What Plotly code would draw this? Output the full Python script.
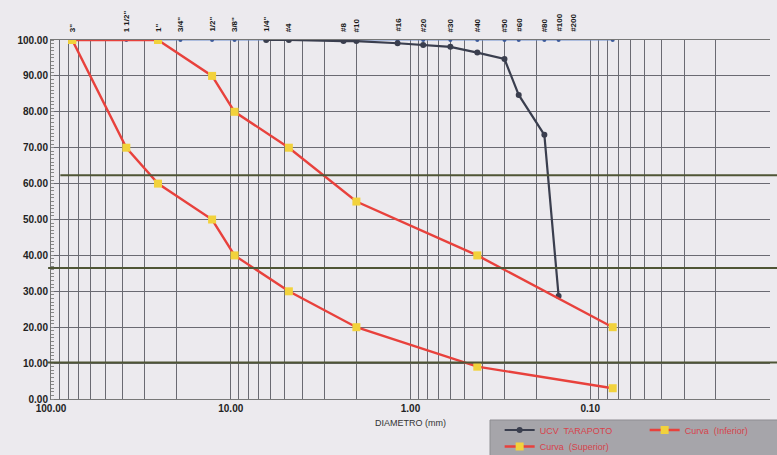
import math
import plotly.graph_objects as go

# Sieve series (ASTM) and their openings in mm
sieve_names = ['3"', '1 1/2"', '1"', '3/4"', '1/2"', '3/8"', '1/4"', '#4', '#8', '#10',
               '#16', '#20', '#30', '#40', '#50', '#60', '#80', '#100', '#200']
sieve_mm = [76.2, 38.1, 25.4, 19.05, 12.7, 9.525, 6.35, 4.75, 2.36, 2.0,
            1.18, 0.85, 0.6, 0.425, 0.3, 0.25, 0.18, 0.15, 0.075]
# where each sieve name is written along the top (the #200 caption sits left of its tick)
sieve_label_mm = sieve_mm[:-1] + [0.125]

# Sample gradation: UCV TARAPOTO
ucv_mm = [6.35, 4.75, 2.36, 2.0, 1.18, 0.85, 0.6, 0.425, 0.3, 0.25, 0.18, 0.15]
ucv_pass = [100.0, 100.0, 99.7, 99.7, 99.1, 98.6, 98.1, 96.5, 94.7, 84.7, 73.6, 28.7]

# Specification envelope
inf_mm = [76.2, 38.1, 25.4, 12.7, 9.525, 4.75, 2.0, 0.425, 0.075]
inf_pass = [100, 70, 60, 50, 40, 30, 20, 9, 3]
sup_mm = [76.2, 25.4, 12.7, 9.525, 4.75, 2.0, 0.425, 0.075]
sup_pass = [100, 100, 90, 80, 70, 55, 40, 20]

# Reference levels marked across the sheet
ref_levels = [62.3, 36.5, 10.2]
ref_starts = [0.013, -0.004, -0.005]

x_ticks = [100, 10, 1, 0.1, 0.01]
x_ticktext = ["100.00", "10.00", "1.00", "0.10", "0.01"]
y_ticks = list(range(0, 101, 10))
y_ticktext = [f"{v:.2f}" for v in y_ticks]

minor_x = [m * 10 ** e for e in range(-2, 2) for m in range(2, 10)]

BG = "#eceaee"
GRID = "#6a6a72"
RED = "#e8413c"
YEL = "#f2d23c"
LEG_TXT = "#d8424a"

fig = go.Figure()

fig.add_trace(go.Scatter(
    x=sieve_mm, y=[100] * len(sieve_mm), mode="lines+markers",
    line=dict(color="#6f8fcf", width=1.2),
    marker=dict(size=4, color="#3d5a99"),
    showlegend=False, hoverinfo="skip"))

fig.add_trace(go.Scatter(
    x=ucv_mm, y=ucv_pass, mode="lines+markers", name="UCV  TARAPOTO",
    line=dict(color="#3a3e4e", width=2.2),
    marker=dict(size=6, color="#3a3e4e", symbol="circle")))

fig.add_trace(go.Scatter(
    x=inf_mm, y=inf_pass, mode="lines+markers", name="Curva  (Inferior)",
    line=dict(color=RED, width=2.4),
    marker=dict(size=8, color=YEL, symbol="square")))

fig.add_trace(go.Scatter(
    x=sup_mm, y=sup_pass, mode="lines+markers", name="Curva  (Superior)",
    line=dict(color=RED, width=2.4),
    marker=dict(size=8, color=YEL, symbol="square"), legend="legend2"))

for lvl, x0 in zip(ref_levels, ref_starts):
    fig.add_shape(type="line", xref="paper", yref="y", x0=x0, x1=1.02, y0=lvl, y1=lvl,
                  line=dict(color="#4f5535", width=2), layer="above")

# grey panel behind the legend entries
fig.add_shape(type="rect", xref="paper", yref="paper",
              x0=0.6106, x1=1.02, y0=-0.17, y1=-0.0585,
              fillcolor="#a6a5aa", line=dict(color="#8e8d92", width=1), layer="below")

# annotations on a log axis are placed in log10 units
for name, pos in zip(sieve_names, sieve_label_mm):
    fig.add_annotation(x=math.log10(pos), y=1, xref="x", yref="paper", text=name,
                       textangle=-90, showarrow=False, yanchor="bottom",
                       yshift=6, font=dict(size=8, color="#1a1a1a",
                                           family="Liberation Sans", weight="bold"))

legend_common = dict(orientation="h", xanchor="left", yanchor="top",
                     bgcolor="rgba(0,0,0,0)", borderwidth=0,
                     entrywidth=100, entrywidthmode="pixels",
                     font=dict(size=9, color=LEG_TXT), tracegroupgap=0, itemwidth=30)

fig.update_layout(
    width=777, height=455,
    margin=dict(l=51, r=7, t=40, b=56, autoexpand=False),
    paper_bgcolor=BG, plot_bgcolor=BG,
    font=dict(family="Liberation Sans", color="#222"),
    showlegend=True,
    legend=dict(x=0.624, y=-0.046, **legend_common),
    legend2=dict(x=0.624, y=-0.092, **legend_common),
)

fig.update_xaxes(
    type="log", range=[2, -2], autorange=False,
    tickvals=x_ticks, ticktext=x_ticktext,
    tickfont=dict(size=10, family="Liberation Sans", weight="bold", color="#222"),
    showgrid=True, gridcolor=GRID, gridwidth=1,
    minor=dict(tickvals=minor_x, showgrid=True, gridcolor=GRID, gridwidth=1, ticks=""),
    showline=True, linecolor="#777", mirror=True, ticks="",
    title=dict(text="DIAMETRO (mm)", font=dict(size=9, color="#333"), standoff=6),
    zeroline=False)

fig.update_yaxes(
    range=[0, 100], autorange=False,
    tickvals=y_ticks, ticktext=y_ticktext,
    tickfont=dict(size=10, family="Liberation Sans", weight="bold", color="#222"),
    showgrid=True, gridcolor=GRID, gridwidth=1,
    minor=dict(dtick=1, ticks="inside", ticklen=3, tickcolor="#888", showgrid=False),
    showline=True, linecolor="#777", ticks="", zeroline=False)

fig.write_html("out.html")
